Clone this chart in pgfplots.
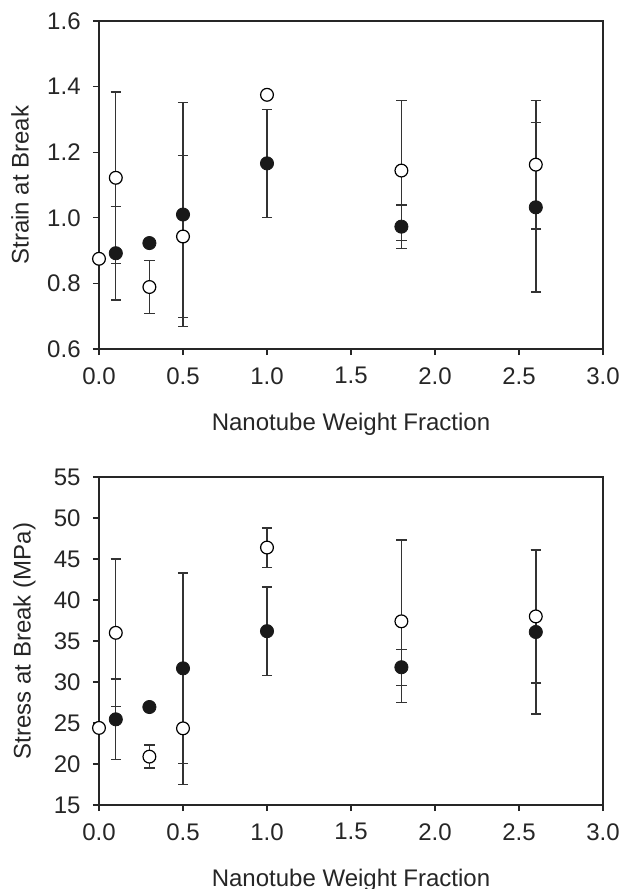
\documentclass[border=0pt]{standalone}
\usepackage{fontspec}
\setmainfont{Liberation Sans}
\usepackage{pgfplots}
\usepackage{pgfplotstable}
\pgfplotsset{compat=1.18}

\pgfplotstableread{
x y e
0.0 0.875 0
0.1 1.122 0.261
0.3 0.789 0.081
0.5 0.943 0.247
1.0 1.375 0
1.8 1.144 0.214
2.6 1.162 0.196
}\strainopen
\pgfplotstableread{
x y e
0.1 0.892 0.142
0.3 0.923 0
0.5 1.010 0.341
1.0 1.166 0.165
1.8 0.973 0.066
2.6 1.032 0.258
}\strainfill
\pgfplotstableread{
x y e
0.0 24.4 0
0.1 36.0 9.0
0.3 20.9 1.4
0.5 24.35 6.85
1.0 46.4 2.4
1.8 37.4 9.9
2.6 38.0 8.1
}\stressopen
\pgfplotstableread{
x y e
0.1 25.45 4.9
0.3 26.95 0
0.5 31.67 11.6
1.0 36.2 5.4
1.8 31.8 2.2
2.6 36.1 10.0
}\stressfill

\begin{document}
\fontsize{12}{14}\selectfont
\begin{tikzpicture}
\pgfplotsset{
  panel/.style={
    scale only axis, width=252pt, height=164pt,
    xmin=0, xmax=3, xtick={0,0.5,1,1.5,2,2.5,3},
    axis line style={line width=0.6pt, black!85},
    tick align=outside, tick pos=left,
    major tick length=3pt,
    every tick/.style={black!85, line width=0.6pt},
    x tick label style={/pgf/number format/.cd, fixed, fixed zerofill, precision=1, /tikz/.cd, yshift=-2pt},
    /pgf/number format/assume math mode=true,
    y tick label style={xshift=-2pt},
    clip=false,
    xlabel={Nanotube Weight Fraction},
    xlabel style={yshift=-6pt},
    ylabel style={yshift=1pt},
    tick label style={font=\fontsize{12}{14}\selectfont, text=black!85},
    label style={font=\fontsize{12}{14}\selectfont, text=black!85},
  },
  ebars/.style={only marks, mark=none, forget plot,
    error bars/.cd, y dir=both, y explicit,
    error bar style={line width=0.7pt, black!80},
    error mark options={rotate=90, mark size=2.6pt, line width=0.7pt, black!80}},
  openm/.style={only marks, mark=*, mark size=3.2pt, mark options={fill=white, draw=black, line width=0.6pt}},
  fillm/.style={only marks, mark=*, mark size=3.3pt, mark options={fill=black!90, draw=black!90}},
}
\begin{axis}[panel, at={(0,0)}, anchor=south west,
  ymin=0.6, ymax=1.6, ytick={0.6,0.8,1.0,1.2,1.4,1.6},
  y tick label style={/pgf/number format/.cd, fixed, fixed zerofill, precision=1, /tikz/.cd},
  ylabel={Strain at Break}]
\addplot[ebars] table[x=x, y=y, y error=e] {\strainopen};
\addplot[ebars] table[x=x, y=y, y error=e] {\strainfill};
\addplot[openm] table[x=x, y=y] {\strainopen};
\addplot[fillm] table[x=x, y=y] {\strainfill};
\end{axis}
\begin{axis}[panel, at={(0,-228pt)}, anchor=south west,
  ymin=15, ymax=55, ytick={15,20,25,30,35,40,45,50,55},
  ylabel={Stress at Break (MPa)}]
\addplot[ebars] table[x=x, y=y, y error=e] {\stressopen};
\addplot[ebars] table[x=x, y=y, y error=e] {\stressfill};
\addplot[openm] table[x=x, y=y] {\stressopen};
\addplot[fillm] table[x=x, y=y] {\stressfill};
\end{axis}
\pgfresetboundingbox
\path[use as bounding box] (-49.5pt,-270pt) rectangle (262.5pt,174.5pt);
\end{tikzpicture}
\end{document}
